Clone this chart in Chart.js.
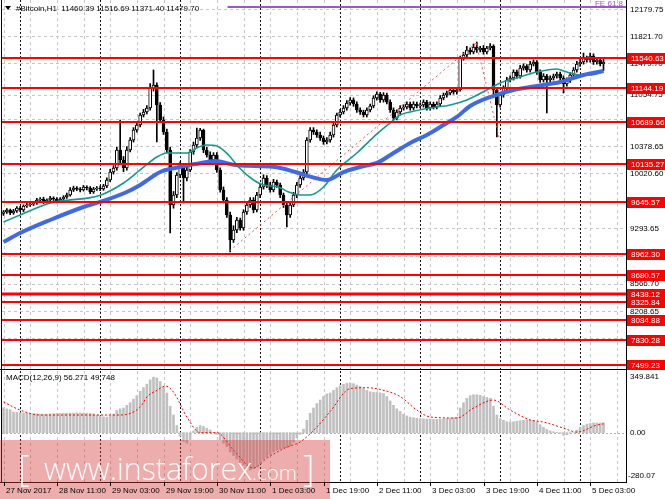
<!DOCTYPE html>
<html>
<head>
<meta charset="utf-8">
<script src="https://cdn.jsdelivr.net/npm/chart.js@4.4.0/dist/chart.umd.min.js"></script>
<style>
  html, body { margin: 0; padding: 0; background: #fff; }
  #wrap { position: relative; width: 665px; height: 499px; overflow: hidden; }
  #main { position: absolute; left: 0; top: 0; }
  #macd { position: absolute; left: 0; top: 370px; }
</style>
</head>
<body>
<div id="wrap">
  <canvas id="main" width="665" height="370"></canvas>
  <canvas id="macd" width="665" height="129"></canvas>
</div>
<script>
// #Bitcoin H1, first bar 27 Nov 2017 19:00, one bar per hour
const opens = [
  9490, 9510, 9536, 9497, 9523, 9563, 9536, 9589, 9602, 9615,
  9629, 9668, 9681, 9642, 9668, 9694, 9681, 9655, 9681, 9708,
  9734, 9800, 9826, 9813, 9800, 9839, 9826, 9773, 9813, 9826,
  9813, 9852, 9931, 10036, 10089, 10326, 10194, 10089, 10326, 10457,
  10589, 10654, 10786, 10825, 10878, 11141, 11180, 10917, 10720, 10562,
  10326, 9602, 9734, 9997, 10128, 9957, 10063, 10299, 10391, 10483,
  10589, 10326, 10260, 10194, 10260, 10063, 9800, 9668, 9471, 9142,
  9274, 9405, 9300, 9510, 9602, 9668, 9536, 9734, 9839, 9957,
  9865, 9800, 9905, 9865, 9734, 9602, 9471, 9602, 9734, 9865,
  9957, 10036, 10457, 10589, 10562, 10523, 10483, 10431, 10457, 10523,
  10654, 10786, 10825, 10878, 10944, 10983, 10930, 10852, 10825, 10786,
  10852, 10904, 11009, 11062, 10983, 11049, 10957, 10852, 10746, 10825,
  10878, 10891, 10930, 10878, 10930, 10904, 10917, 10957, 10878, 10930,
  10891, 10930, 11009, 11049, 11075, 11115, 11088, 11115, 11535, 11575,
  11640, 11614, 11680, 11640, 11667, 11614, 11667, 11693, 11115, 10917,
  11049, 11141, 11246, 11272, 11351, 11299, 11404, 11430, 11378, 11456,
  11483, 11351, 11246, 11299, 11246, 11272, 11299, 11325, 11272, 11193,
  11246, 11312, 11378, 11456, 11483, 11535, 11509, 11562, 11483, 11509,
  11460.39
];
const highs = [
  9530, 9555, 9550, 9545, 9580, 9585, 9605, 9625, 9635, 9650,
  9690, 9700, 9705, 9685, 9715, 9710, 9700, 9700, 9725, 9760,
  9830, 9850, 9845, 9830, 9860, 9855, 9845, 9835, 9845, 9850,
  9875, 9960, 10070, 10120, 10360, 10720, 10240, 10370, 10490, 10620,
  10690, 10810, 10860, 10910, 11200, 11378, 11210, 10950, 10760, 10600,
  10360, 9780, 10030, 10170, 10150, 10100, 10330, 10430, 10615, 10610,
  10600, 10360, 10300, 10290, 10290, 10090, 9840, 9700, 9510, 9330,
  9440, 9430, 9540, 9640, 9700, 9700, 9770, 9880, 10000, 9990,
  9900, 9940, 9930, 9890, 9760, 9640, 9640, 9770, 9900, 9990,
  10070, 10490, 10620, 10620, 10590, 10560, 10510, 10490, 10560, 10690,
  10810, 10860, 10910, 10975, 11015, 11010, 10960, 10880, 10850, 10880,
  10930, 11040, 11090, 11085, 11080, 11075, 10985, 10880, 10855, 10910,
  10920, 10960, 10955, 10960, 10955, 10945, 10985, 10980, 10960, 10955,
  10960, 11040, 11075, 11100, 11145, 11140, 11140, 11560, 11610, 11690,
  11670, 11720, 11746, 11690, 11700, 11690, 11725, 11710, 11150, 11080,
  11170, 11280, 11300, 11380, 11375, 11440, 11460, 11450, 11490, 11510,
  11500, 11380, 11330, 11320, 11300, 11325, 11350, 11350, 11300, 11275,
  11340, 11410, 11490, 11520, 11600, 11560, 11601, 11590, 11540, 11530,
  11516.69
];
const lows = [
  9465, 9490, 9475, 9480, 9505, 9515, 9515, 9570, 9585, 9595,
  9610, 9645, 9620, 9625, 9650, 9660, 9630, 9640, 9665, 9690,
  9720, 9780, 9790, 9775, 9785, 9800, 9750, 9755, 9795, 9790,
  9795, 9830, 9910, 10010, 10060, 10150, 10040, 10060, 10300, 10430,
  10560, 10630, 10760, 10800, 10850, 11100, 10431, 10690, 10530, 10290,
  9234, 9560, 9700, 9960, 9629, 9920, 10040, 10270, 10360, 10450,
  10290, 10230, 10160, 10160, 10030, 9770, 9630, 9440, 8984, 9110,
  9240, 9270, 9270, 9480, 9570, 9500, 9510, 9700, 9810, 9830,
  9770, 9775, 9835, 9700, 9570, 9313, 9440, 9580, 9700, 9835,
  9930, 10010, 10430, 10530, 10490, 10450, 10400, 10405, 10430, 10495,
  10630, 10760, 10800, 10850, 10915, 10900, 10820, 10795, 10760, 10760,
  10825, 10880, 10980, 10950, 10955, 10930, 10820, 10720, 10720, 10800,
  10850, 10865, 10850, 10855, 10880, 10880, 10890, 10850, 10850, 10865,
  10865, 10905, 10985, 11020, 11050, 11060, 11060, 11100, 11505, 11550,
  11585, 11590, 11610, 11615, 11585, 11590, 11640, 11050, 10496, 10890,
  11020, 11110, 11220, 11245, 11270, 11270, 11375, 11350, 11350, 11430,
  11320, 11215, 11220, 10812, 11215, 11245, 11270, 11245, 11075, 11165,
  11215, 11285, 11350, 11425, 11455, 11480, 11480, 11450, 11455, 11430,
  11371.40
];
const closes = [
  9510, 9536, 9497, 9523, 9563, 9536, 9589, 9602, 9615, 9629,
  9668, 9681, 9642, 9668, 9694, 9681, 9655, 9681, 9708, 9734,
  9800, 9826, 9813, 9800, 9839, 9826, 9773, 9813, 9826, 9813,
  9852, 9931, 10036, 10089, 10326, 10194, 10089, 10326, 10457, 10589,
  10654, 10786, 10825, 10878, 11141, 11180, 10917, 10720, 10562, 10326,
  9602, 9734, 9997, 10128, 9957, 10063, 10299, 10391, 10483, 10589,
  10326, 10260, 10194, 10260, 10063, 9800, 9668, 9471, 9142, 9274,
  9405, 9300, 9510, 9602, 9668, 9536, 9734, 9839, 9957, 9865,
  9800, 9905, 9865, 9734, 9602, 9471, 9602, 9734, 9865, 9957,
  10036, 10457, 10589, 10562, 10523, 10483, 10431, 10457, 10523, 10654,
  10786, 10825, 10878, 10944, 10983, 10930, 10852, 10825, 10786, 10852,
  10904, 11009, 11062, 10983, 11049, 10957, 10852, 10746, 10825, 10878,
  10891, 10930, 10878, 10930, 10904, 10917, 10957, 10878, 10930, 10891,
  10930, 11009, 11049, 11075, 11115, 11088, 11115, 11535, 11575, 11640,
  11614, 11680, 11640, 11667, 11614, 11667, 11693, 11115, 10917, 11049,
  11141, 11246, 11272, 11351, 11299, 11404, 11430, 11378, 11456, 11483,
  11351, 11246, 11299, 11246, 11272, 11299, 11325, 11272, 11193, 11246,
  11312, 11378, 11456, 11483, 11535, 11509, 11562, 11483, 11509, 11460.39,
  11479.70
];

// moving averages (bar index / price)
const maFastX = [0, 5, 14, 29, 36, 41, 46, 49, 55, 58.5, 61, 64, 67.5, 70.5, 75, 78, 82.5, 85.5, 89, 92, 96, 100, 106, 111, 116, 119, 122, 128, 134, 139, 145, 149, 154, 160, 166, 169, 173, 176, 180];
const maFastY = [9379, 9471, 9629, 9730, 9892, 10063, 10233, 10286, 10286, 10365, 10391, 10378, 10260, 10102, 9931, 9865, 9839, 9773, 9734, 9734, 9839, 10063, 10286, 10496, 10681, 10786, 10825, 10878, 10917, 10983, 11115, 11207, 11272, 11351, 11391, 11351, 11312, 11312, 11350];
const maSlowX = [0, 5, 14, 24, 29, 37, 41, 47, 51.5, 57.5, 63.5, 69.5, 75.5, 81.5, 87.5, 93.5, 97, 102, 107, 112, 117, 122, 127, 132, 136, 140, 146, 153, 160, 167, 174, 180];
const maSlowY = [9116, 9234, 9405, 9576, 9642, 9773, 9865, 10036, 10089, 10141, 10181, 10128, 10115, 10102, 10036, 9957, 9931, 10036, 10102, 10155, 10286, 10418, 10523, 10654, 10760, 10904, 11022, 11115, 11167, 11220, 11312, 11364];

// drawn objects
const trendUpX = [67.8, 141.8];
const trendUpY = [8997, 11733];
const trendDownX = [141.8, 148.7];
const trendDownY = [11733, 10483];
const feStartX = 67.2;
const feLevel = 12206;
const levels = [11540.63, 11144.19, 10689.66, 10135.27, 9645.57, 8962.30, 8680.57, 8438.12, 8325.84, 8084.88, 7830.28, 7499.23];

// price axis
const gridPrices = [12179.75, 11821.70, 11463.65, 11054.75, 10736.70, 10378.65, 10020.60, 9657.10, 9293.65, 8935.60, 8566.70, 8208.65, 7850.60, 7492.55];
const priceLabels = [12179.75, 11821.70, 11054.75, 10378.65, 10020.60, 9293.65, 8935.60, 8566.70, 8208.65];

// time axis
const timeLabels = ['27 Nov 2017', '28 Nov 11:00', '29 Nov 03:00', '29 Nov 19:00', '30 Nov 11:00', '1 Dec 03:00', '1 Dec 19:00', '2 Dec 11:00', '3 Dec 03:00', '3 Dec 19:00', '4 Dec 11:00', '5 Dec 03:00'];
const timeLabelBars = [0, 16, 32, 48, 64, 80, 96, 112, 128, 144, 160, 176];
const daySeparators = [5, 29, 53, 77, 101, 125, 149, 173];

// MACD(12,26,9)
const macdHist = [
  140, 135, 130, 117, 115, 113, 112, 110, 108, 107,
  106, 105, 104, 105, 106, 107, 108, 109, 110, 110,
  111, 111, 112, 112, 111, 110, 109, 106, 100, 95,
  90, 88, 95, 105, 125, 135, 140, 155, 170, 190,
  210, 235, 255, 275, 300, 315, 310, 290, 260, 225,
  150, 100, 40, -20, -50, -60, -40, 10, 30, 40,
  35, 25, 15, 0, -10, -40, -60, -80, -110, -130,
  -150, -170, -185, -200, -212, -205, -195, -175, -155, -140,
  -125, -110, -100, -95, -90, -85, -75, -55, -30, -10,
  20, 70, 110, 140, 165, 185, 205, 220, 225, 240,
  255, 265, 275, 280, 282, 278, 270, 262, 250, 240,
  232, 228, 228, 226, 222, 205, 180, 155, 135, 120,
  105, 95, 88, 85, 82, 80, 78, 77, 76, 75,
  75, 76, 78, 80, 82, 85, 88, 140, 170, 195,
  210, 215, 215, 212, 205, 200, 195, 150, 100, 80,
  70, 62, 60, 62, 65, 68, 70, 72, 72, 70,
  60, 45, 30, 18, 10, 5, 2, -5, -15, -12,
  -5, 0, 15, 30, 40, 48, 52, 55, 55, 54,
  56.271
];
const signalX = [0, 5, 11, 29, 35, 41, 43, 46, 48.6, 51, 55, 59, 64, 69, 75, 79, 85, 89, 94, 98, 104, 109, 113, 119, 124, 128, 136, 141, 147, 152, 158, 162, 168, 172, 178, 180];
const signalY = [174, 128, 100, 100, 100, 145, 202, 240, 264, 230, 89, 0, 0, -99, -201, -145, -82, -53, 32, 120, 250, 255, 245, 205, 128, 89, 83, 140, 185, 128, 72, 60, 26, 3, 43, 49.748];
const macdMax = 349.841;
const macdMin = -280.07;

const X_MIN = -0.45;
const X_MAX = 186.75;
const PRICE_MIN = 7445.65;
const PRICE_MAX = 12298;
const FONT = '8px "Liberation Sans", Arial, sans-serif';

const bars = closes.map((c, i) => i);
const pts = (xs, ys) => xs.map((x, i) => ({ x: x, y: ys[i] }));
const snap = v => Math.round(v) + 0.5;

function hline(ctx, x1, x2, y) {
  ctx.beginPath(); ctx.moveTo(x1, y); ctx.lineTo(x2, y); ctx.stroke();
}
function vline(ctx, x, y1, y2) {
  ctx.beginPath(); ctx.moveTo(x, y1); ctx.lineTo(x, y2); ctx.stroke();
}

function drawVerticalGrid(chart) {
  const { ctx, chartArea: a, scales: { x } } = chart;
  ctx.save();
  ctx.lineWidth = 1;
  ctx.setLineDash([3, 3]);
  ctx.strokeStyle = '#c6c6c6';
  for (let i = 0; i < X_MAX; i += 8) {
    vline(ctx, snap(x.getPixelForValue(i)), a.top, a.bottom);
  }
  ctx.setLineDash([2, 2]);
  ctx.strokeStyle = '#111';
  daySeparators.forEach(i => vline(ctx, snap(x.getPixelForValue(i)), a.top, a.bottom));
  ctx.restore();
}

const mainDecor = {
  id: 'mainDecor',
  beforeDatasetsDraw(chart) {
    const { ctx, chartArea: a, scales: { y } } = chart;
    ctx.save();
    ctx.lineWidth = 1;
    ctx.setLineDash([3, 3]);
    ctx.strokeStyle = '#c6c6c6';
    gridPrices.forEach(p => hline(ctx, a.left, a.right, snap(y.getPixelForValue(p))));
    ctx.restore();
    drawVerticalGrid(chart);
  },
  afterDatasetsDraw(chart) {
    const { ctx, chartArea: a, scales: { y } } = chart;
    ctx.save();
    ctx.strokeStyle = '#ff0000';
    levels.forEach(l => {
      const py = y.getPixelForValue(l);
      ctx.lineWidth = l === 8438.12 ? 3 : 2;
      hline(ctx, a.left, a.right, Math.round(py));
    });
    ctx.restore();
  },
  afterDraw(chart) {
    const { ctx, chartArea: a, scales: { y } } = chart;
    ctx.save();
    ctx.strokeStyle = '#000';
    ctx.lineWidth = 1;
    vline(ctx, a.right + 0.5, 0, 370);
    vline(ctx, 1.5, 0, 370);
    hline(ctx, 0, a.right + 1, 369.5);

    ctx.font = FONT;
    ctx.textAlign = 'left';
    ctx.textBaseline = 'middle';
    ctx.fillStyle = '#000';
    priceLabels.forEach(p => ctx.fillText(p.toFixed(2), 630, y.getPixelForValue(p) + 0.5));
    const last = closes[closes.length - 1];
    ctx.fillText(last.toFixed(2), 630, y.getPixelForValue(last) + 1.5);

    levels.forEach(l => {
      const py = Math.round(y.getPixelForValue(l));
      ctx.fillStyle = '#ff0000';
      ctx.fillRect(a.right + 1, py - 5, 665 - a.right, 11);
      ctx.fillStyle = '#fff';
      ctx.fillText(l.toFixed(2), 631, py + 0.5);
    });

    // FE label
    ctx.fillStyle = '#9a55cf';
    ctx.textAlign = 'right';
    ctx.textBaseline = 'alphabetic';
    ctx.font = '8px "Liberation Sans", Arial, sans-serif';
    ctx.fillText('FE 61.8', a.right - 3, y.getPixelForValue(feLevel) - 1);

    // title
    const n = closes.length - 1;
    ctx.fillStyle = '#000';
    ctx.beginPath();
    ctx.moveTo(5, 6); ctx.lineTo(11, 6); ctx.lineTo(8, 10); ctx.closePath();
    ctx.fill();
    ctx.textAlign = 'left';
    ctx.textBaseline = 'middle';
    ctx.font = FONT;
    ctx.fillText('#Bitcoin,H1  ' + [opens[n], highs[n], lows[n], closes[n]].map(v => v.toFixed(2)).join(' '), 16, 8.5);
    ctx.restore();
  }
};

new Chart(document.getElementById('main'), {
  type: 'bar',
  data: {
    datasets: [
      {
        type: 'bar',
        data: bars.map(i => ({ x: i, y: [lows[i], highs[i]] })),
        barThickness: 1,
        backgroundColor: '#000',
        grouped: false,
        order: 6
      },
      {
        type: 'bar',
        data: bars.map(i => ({ x: i, y: [opens[i], closes[i]] })),
        barThickness: 3,
        backgroundColor: c => closes[c.dataIndex] >= opens[c.dataIndex] ? '#ffffff' : '#000000',
        borderColor: '#000',
        borderWidth: 1,
        borderSkipped: false,
        minBarLength: 1,
        grouped: false,
        order: 5
      },
      {
        type: 'line',
        data: pts(maFastX, maFastY),
        borderColor: '#14998c',
        borderWidth: 1.6,
        pointRadius: 0,
        cubicInterpolationMode: 'monotone',
        order: 3
      },
      {
        type: 'line',
        data: pts(maSlowX, maSlowY),
        borderColor: '#4169e1',
        borderWidth: 4,
        pointRadius: 0,
        cubicInterpolationMode: 'monotone',
        order: 2
      },
      {
        type: 'line',
        data: pts(trendUpX, trendUpY),
        borderColor: '#ff4a4a',
        borderWidth: 1,
        borderDash: [2, 3],
        pointRadius: 0,
        order: 1
      },
      {
        type: 'line',
        data: pts(trendDownX, trendDownY),
        borderColor: '#ff4a4a',
        borderWidth: 1,
        borderDash: [2, 3],
        pointRadius: 0,
        order: 1
      },
      {
        type: 'line',
        data: [{ x: feStartX, y: feLevel }, { x: X_MAX, y: feLevel }],
        borderColor: '#9a55cf',
        borderWidth: 2,
        pointRadius: 0,
        order: 0
      }
    ]
  },
  options: {
    responsive: false,
    animation: false,
    devicePixelRatio: 1,
    layout: { padding: { left: 2, right: 39, top: 0, bottom: 1 } },
    plugins: { legend: { display: false }, tooltip: { enabled: false } },
    scales: {
      x: { type: 'linear', min: X_MIN, max: X_MAX, offset: false, display: false },
      y: { type: 'linear', min: PRICE_MIN, max: PRICE_MAX, display: false }
    }
  },
  plugins: [mainDecor]
});

const macdDecor = {
  id: 'macdDecor',
  beforeDatasetsDraw(chart) {
    const { ctx, chartArea: a, scales: { y } } = chart;
    drawVerticalGrid(chart);
    ctx.save();
    ctx.setLineDash([2, 2]);
    ctx.strokeStyle = '#b0b0b0';
    ctx.lineWidth = 1;
    hline(ctx, a.left, a.right, snap(y.getPixelForValue(0)));
    ctx.restore();
  },
  afterDraw(chart) {
    const { ctx, chartArea: a, scales: { x, y } } = chart;
    ctx.save();
    ctx.strokeStyle = '#000';
    ctx.lineWidth = 1;
    vline(ctx, a.right + 0.5, 0, a.bottom + 1);
    vline(ctx, 1.5, 0, a.bottom + 1);
    hline(ctx, 0, a.right + 1, a.bottom + 0.5);

    ctx.font = FONT;
    ctx.fillStyle = '#000';
    ctx.textAlign = 'left';
    ctx.textBaseline = 'middle';
    ctx.fillText(macdMax.toFixed(3), 630, a.top + 6);
    ctx.fillText('0.00', 630, y.getPixelForValue(0) + 0.5);
    ctx.fillText(macdMin.toFixed(2), 628, a.bottom - 6);
    ctx.fillText('MACD(12,26,9) ' + macdHist[macdHist.length - 1].toFixed(3) + ' ' + signalY[signalY.length - 1].toFixed(3), 6, a.top + 7);

    // watermark
    ctx.fillStyle = 'rgba(214, 60, 60, 0.42)';
    ctx.fillRect(0, 70, 330, 59);
    ctx.fillStyle = 'rgba(255, 255, 255, 0.95)';
    ctx.textBaseline = 'alphabetic';
    ctx.font = '300 30px "Open Sans", "Liberation Sans", sans-serif';
    const big = 'www.instaforex';
    const size = 30 * 208 / ctx.measureText(big).width;
    ctx.font = '300 ' + size.toFixed(1) + 'px "Open Sans", "Liberation Sans", sans-serif';
    ctx.fillText(big, 44, 110);
    ctx.font = '300 ' + (size * 0.68).toFixed(1) + 'px "Open Sans", "Liberation Sans", sans-serif';
    ctx.fillText('.com', 44 + 208, 110);
    ctx.font = '200 36px "Open Sans", "Liberation Sans", sans-serif';
    ctx.fillText('[', 18, 111);
    ctx.fillText(']', 303, 111);

    // time axis
    ctx.fillStyle = '#000';
    ctx.font = FONT;
    ctx.textBaseline = 'middle';
    timeLabelBars.forEach((b, k) => {
      const px = snap(x.getPixelForValue(b));
      vline(ctx, px, a.bottom, a.bottom + 4);
      ctx.fillText(timeLabels[k], px + 1.5, a.bottom + 8.5);
    });
    ctx.restore();
  }
};

new Chart(document.getElementById('macd'), {
  type: 'bar',
  data: {
    datasets: [
      {
        type: 'bar',
        data: bars.map(i => ({ x: i, y: macdHist[i] })),
        barThickness: 2,
        backgroundColor: '#c0c0c0',
        grouped: false,
        order: 2
      },
      {
        type: 'line',
        data: pts(signalX, signalY),
        borderColor: '#ff0000',
        borderWidth: 1,
        borderDash: [2, 2],
        pointRadius: 0,
        cubicInterpolationMode: 'monotone',
        order: 1
      }
    ]
  },
  options: {
    responsive: false,
    animation: false,
    devicePixelRatio: 1,
    layout: { padding: { left: 2, right: 39, top: 1, bottom: 17 } },
    plugins: { legend: { display: false }, tooltip: { enabled: false } },
    scales: {
      x: { type: 'linear', min: X_MIN, max: X_MAX, offset: false, display: false },
      y: { type: 'linear', min: macdMin, max: macdMax, display: false }
    }
  },
  plugins: [macdDecor]
});
</script>
</body>
</html>
